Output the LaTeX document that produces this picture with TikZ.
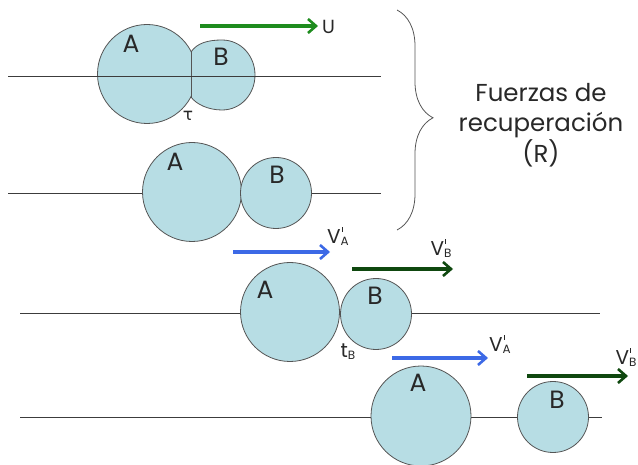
\documentclass[tikz,border=0pt]{standalone}
\usepackage{fontspec}
\setmainfont{Poppins}
\newfontfamily\dejavu{DejaVu Sans}
\usetikzlibrary{arrows.meta,decorations.pathreplacing}
\definecolor{ball}{RGB}{183,221,228}
\definecolor{edge}{RGB}{85,85,85}
\definecolor{trackc}{RGB}{60,60,60}
\definecolor{ublue}{RGB}{60,105,230}
\definecolor{ugreen}{RGB}{30,140,30}
\definecolor{dgreen}{RGB}{15,72,15}
\definecolor{txt}{RGB}{40,40,40}
\newcommand{\primetick}{\rlap{\hspace{0.8pt}\raisebox{11.5pt}{\rule{0.9pt}{5pt}}}}
\newcommand{\vlab}[1]{V\primetick\raisebox{-2pt}{\fontsize{12}{12}\selectfont #1}}
\begin{document}
\begin{tikzpicture}[x=1pt,y=-1pt,
  track/.style={draw=trackc,line width=0.8pt},
  ballbig/.style={circle,draw=edge,fill=ball,line width=0.8pt,inner sep=0pt,minimum size=99pt},
  ballsmall/.style={circle,draw=edge,fill=ball,line width=0.8pt,inner sep=0pt,minimum size=71pt},
  lbl/.style={font=\fontsize{25}{25}\selectfont,text=txt,inner sep=0pt},
  vl/.style={font=\fontsize{20}{20}\selectfont,text=txt,inner sep=0pt},
  vel/.style={line width=3.2pt,-{Straight Barb[length=8pt,width=14pt,line width=2.6pt]}},
]
\useasboundingbox (0,0) rectangle (638,465);

% ---- row 1: deformed contact ----
\fill[ball,draw=edge,line width=0.8pt] (191,52) .. controls (197,43) and (208,40) .. (222,40)
  .. controls (241,40) and (255,56) .. (255,75)
  .. controls (255,94) and (241,110) .. (222,110)
  .. controls (208,110) and (196,104) .. (191,97) -- cycle;
\begin{scope}
  \clip (0,0) rectangle (191,465);
  \node[ballbig] (A1) at (147,74) {};
\end{scope}
\draw[edge,line width=0.9pt] (191,51) -- (191,98);
\coordinate (L1a) at (8,76);
\coordinate (L1b) at (381,76);
\draw[track] (L1a) -- (L1b);
\node[lbl] (tA1) at (131,44) {A};
\node[lbl] (tB1) at (221,57) {B};
\node[font=\dejavu\fontsize{17}{17}\selectfont,text=txt,inner sep=0pt] (tau) at (188,116) {τ};
\coordinate (U1s) at (200,26);
\coordinate (U1e) at (318,26);
\draw[vel,ugreen] (U1s) -- (U1e);
\node[vl,anchor=west,font=\fontsize{19}{19}\selectfont] (U) at (322,27) {U};

% ---- row 2 ----
\coordinate (L2a) at (8,193);
\coordinate (L2b) at (381,193);
\draw[track] (L2a) -- (L2b);
\node[ballbig] (A2) at (192,192) {};
\node[ballsmall] (B2) at (276,193) {};
\node[lbl] (tA2) at (175,162) {A};
\node[lbl] (tB2) at (277,175) {B};

% ---- brace and text ----
\coordinate (Bra) at (397,10);
\coordinate (Brb) at (397,230);
\draw[edge,line width=0.8pt,decorate,decoration={brace,amplitude=36pt,aspect=0.49}] (Bra) -- (Brb);
\node[align=center,text=txt,font=\fontsize{24.5}{30.5}\selectfont,inner sep=0pt] (R) at (541,125)
  {Fuerzas de\\recuperación\\(R)};

% ---- row 3 ----
\coordinate (L3a) at (20,313);
\coordinate (L3b) at (600,313);
\draw[track] (L3a) -- (L3b);
\node[ballbig] (A3) at (290,312) {};
\node[ballsmall] (B3) at (376,314) {};
\node[lbl] (tA3) at (265,290) {A};
\node[lbl] (tB3) at (375,296) {B};
\node[vl] (tb) at (348,352) {t\raisebox{-2pt}{\fontsize{12}{12}\selectfont B}};
\coordinate (V3as) at (233,252);
\coordinate (V3ae) at (330,252);
\draw[vel,ublue] (V3as) -- (V3ae);
\node[vl] (V3a) at (338,236) {\vlab{A}};
\coordinate (V3bs) at (352,269);
\coordinate (V3be) at (453,269);
\draw[vel,dgreen] (V3bs) -- (V3be);
\node[vl] (V3b) at (441,248) {\vlab{B}};

% ---- row 4 ----
\coordinate (L4a) at (20,417);
\coordinate (L4b) at (602,417);
\draw[track] (L4a) -- (L4b);
\node[ballbig,minimum size=100pt] (A4) at (421,416) {};
\node[ballsmall] (B4) at (553,417) {};
\node[lbl] (tA4) at (418,383) {A};
\node[lbl] (tB4) at (557,400) {B};
\coordinate (V4as) at (392,358);
\coordinate (V4ae) at (488,358);
\draw[vel,ublue] (V4as) -- (V4ae);
\node[vl] (V4a) at (500,344) {\vlab{A}};
\coordinate (V4bs) at (527,376);
\coordinate (V4be) at (628,376);
\draw[vel,dgreen] (V4bs) -- (V4be);
\node[vl] (V4b) at (626,357) {\vlab{B}};
\end{tikzpicture}
\end{document}
